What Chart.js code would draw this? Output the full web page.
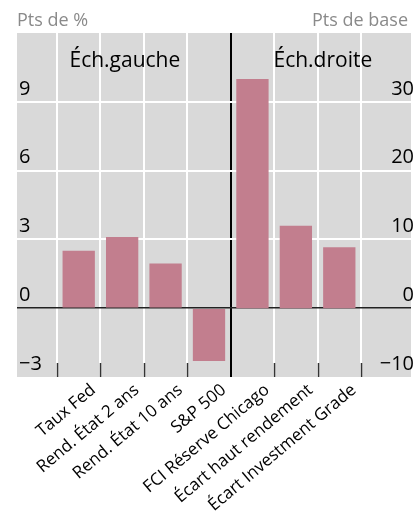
<!DOCTYPE html>
<html lang="fr">
<head>
<meta charset="utf-8">
<title>Marchés financiers</title>
<script src="https://cdn.jsdelivr.net/npm/chart.js@4/dist/chart.umd.min.js"></script>
<style>
  html, body { margin: 0; padding: 0; background: #ffffff; }
  #wrap { width: 419px; height: 518px; position: relative; }
</style>
</head>
<body>
<div id="wrap"><canvas id="c" width="419" height="518"></canvas></div>
<script>
// Catégories (gauche : pts de %, droite : pts de base)
const categories = [
  'Taux Fed',
  'Rend. État 2 ans',
  'Rend. État 10 ans',
  'S&P 500',
  'FCI Réserve Chicago',
  'Écart haut rendement',
  'Écart Investment Grade'
];
const leftValues = [2.5, 3.1, 1.95, -2.3];     // Pts de %
const rightValues = [33.3, 12.0, 8.85];        // Pts de base
const leftTicks = [-3, 0, 3, 6, 9];
const rightTicks = [-10, 0, 10, 20, 30];
const headerLeft = 'Pts de %';
const headerRight = 'Pts de base';
const panelLabels = ['Éch.gauche', 'Éch.droite'];

const FONT = '"Open Sans", "DejaVu Sans", sans-serif';
const BAR = '#c27e8e';
const PLOT_BG = '#d9d9d9';

// positions des séparations entre catégories (une de plus que les barres)
const boundaries = [0.5].concat(categories.map((_, i) => i + 1.5));
const dividerAt = leftValues.length + 0.5;

const fmt = v => (v < 0 ? '\u2212' + Math.abs(v) : String(v));

const decor = {
  id: 'decor',
  beforeDraw(chart) {
    const { ctx, chartArea: a } = chart;
    ctx.save();
    ctx.fillStyle = PLOT_BG;
    ctx.fillRect(a.left, a.top, a.right - a.left, a.bottom - a.top);
    ctx.restore();
  },
  afterDraw(chart) {
    const { ctx, chartArea: a, scales } = chart;
    const x = scales.x;
    ctx.save();
    // petites graduations au pied du graphique
    ctx.strokeStyle = '#333333';
    ctx.lineWidth = 1.5;
    boundaries.forEach(b => {
      if (b === dividerAt) return;
      const px = Math.round(x.getPixelForValue(b)) + 0.5;
      ctx.beginPath();
      ctx.moveTo(px, a.bottom - 14);
      ctx.lineTo(px, a.bottom);
      ctx.stroke();
    });
    // en-têtes des unités
    ctx.font = '18px ' + FONT;
    ctx.fillStyle = '#8a8a8a';
    ctx.textBaseline = 'alphabetic';
    ctx.textAlign = 'left';
    ctx.fillText(headerLeft, 17, 26);
    ctx.textAlign = 'right';
    ctx.fillText(headerRight, 408, 26);
    // étiquettes des deux panneaux
    const mid = x.getPixelForValue(dividerAt);
    ctx.font = '21px ' + FONT;
    ctx.fillStyle = '#000000';
    ctx.textAlign = 'center';
    ctx.fillText(panelLabels[0], (a.left + mid) / 2 + 1, 67);
    ctx.fillText(panelLabels[1], (mid + a.right) / 2 + 2, 67);
    ctx.restore();
  }
};

new Chart(document.getElementById('c'), {
  type: 'bar',
  data: {
    datasets: [
      {
        label: headerLeft,
        data: leftValues.map((v, i) => ({ x: i + 1, y: v })),
        yAxisID: 'y',
        backgroundColor: BAR,
        grouped: false,
        barPercentage: 0.93,
        categoryPercentage: 0.8
      },
      {
        label: headerRight,
        data: rightValues.map((v, i) => ({ x: leftValues.length + i + 1, y: v })),
        yAxisID: 'y2',
        backgroundColor: BAR,
        grouped: false,
        barPercentage: 0.93,
        categoryPercentage: 0.8
      }
    ]
  },
  options: {
    responsive: false,
    animation: false,
    layout: { padding: { left: 17, right: 8, top: 33, bottom: 0 } },
    plugins: { legend: { display: false }, tooltip: { enabled: false }, title: { display: false } },
    scales: {
      x: {
        type: 'linear',
        offset: false,
        min: -0.421,
        max: 8.651,
        afterBuildTicks: s => { s.ticks = boundaries.map(v => ({ value: v })); },
        afterFit: s => { s.height = 141; },
        border: { display: false },
        grid: {
          offset: false,
          drawTicks: false,
          color: c => (c.tick && c.tick.value === dividerAt ? '#000000' : '#ffffff'),
          lineWidth: 2
        },
        ticks: {
          autoSkip: false,
          minRotation: 40,
          maxRotation: 40,
          padding: 3,
          labelOffset: -7,
          color: '#000000',
          font: { family: FONT, size: 17 },
          callback: v => {
            const i = Math.round(v - 1.5);
            return i >= 0 && i < categories.length ? categories[i] : '';
          }
        }
      },
      y: {
        position: 'left',
        min: -3,
        max: 12,
        afterBuildTicks: s => { s.ticks = leftTicks.concat([12]).map(v => ({ value: v })); },
        afterFit: s => { s.width = 0; },
        border: { display: false },
        grid: {
          drawTicks: false,
          color: c => {
            const v = c.tick ? c.tick.value : null;
            if (v === 0) return '#222222';
            if (v === 12 || v === -3) return 'rgba(0,0,0,0)';
            return '#ffffff';
          },
          lineWidth: c => (c.tick && c.tick.value === 0 ? 1.5 : 2)
        },
        ticks: {
          mirror: true,
          padding: 2,
          labelOffset: -13,
          color: '#000000',
          font: { family: FONT, size: 20 },
          callback: v => (leftTicks.includes(v) ? fmt(v) : '')
        }
      },
      y2: {
        position: 'right',
        min: -10,
        max: 40,
        afterBuildTicks: s => { s.ticks = rightTicks.concat([40]).map(v => ({ value: v })); },
        afterFit: s => { s.width = 0; },
        border: { display: false },
        grid: { display: false, drawTicks: false },
        ticks: {
          mirror: true,
          padding: 3,
          labelOffset: -13,
          color: '#000000',
          font: { family: FONT, size: 20 },
          callback: v => (rightTicks.includes(v) ? fmt(v) : '')
        }
      }
    }
  },
  plugins: [decor]
});
</script>
</body>
</html>
